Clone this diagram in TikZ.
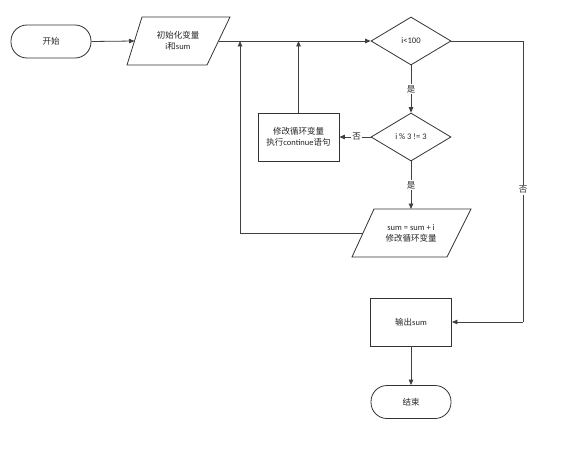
\documentclass[tikz,border=0pt]{standalone}
\usepackage{fontspec}
\setmainfont{Carlito}
\newfontfamily\cjk{Noto Sans CJK SC}
\usetikzlibrary{arrows.meta,shapes.geometric}
\begin{document}
\begin{tikzpicture}[x=1pt,y=-1pt,
  line/.style={draw=black!75, line width=0.8pt},
  arr/.style={line, -{Triangle[length=5.5pt,width=4.5pt]}},
  shapeline/.style={draw=black!80, line width=0.8pt},
  txt/.style={text=black!85, font=\fontsize{8.5}{11}\selectfont, align=center},
  term/.style={shapeline, txt, rectangle, rounded corners=16pt, minimum width=80pt, minimum height=33pt, inner sep=0pt},
  procbox/.style={shapeline, txt, rectangle, minimum width=81pt, minimum height=48pt, inner sep=0pt},
  decision/.style={shapeline, txt, diamond, aspect=1.667, minimum width=80pt, minimum height=48pt, inner sep=0pt},
  lbl/.style={txt, fill=white, inner sep=1.5pt}
]
\useasboundingbox (0,0) rectangle (588,452);
\fill[white] (0,0) rectangle (588,452);

% terminals
\node[term] (start) at (51,41.5) {\cjk 开始};
\node[term] (stop) at (411,402) {\cjk 结束};

% init parallelogram
\draw[shapeline] (142,17) -- (230,17) -- (207,65) -- (127,65) -- cycle;
\node[txt] (init) at (178,41) {{\cjk 初始化变量}\\i{\cjk 和}sum};
\coordinate (initL) at (134.5,41);
\coordinate (initR) at (218.5,41);

% decisions
\node[decision] (d1) at (411,41) {i<100};
\node[decision] (d2) at (411,137) {i \% 3 != 3};

% continue box
\node[procbox] (cont) at (298.5,137) {{\cjk 修改循环变量}\\{\cjk 执行}continue{\cjk 语句}};

% sum parallelogram
\draw[shapeline] (374,209) -- (471,209) -- (447,257) -- (352,257) -- cycle;
\node[txt] (sum) at (411,233) {sum = sum + i\\{\cjk 修改循环变量}};
\coordinate (sumT) at (411,209);
\coordinate (sumL) at (363,233);

% output box
\node[procbox] (out) at (411,322) {{\cjk 输出}sum};

% junctions
\coordinate (j1) at (240,41);
\coordinate (j2) at (298.5,41);
\coordinate (c1) at (240,233);
\coordinate (r1) at (523,41);
\coordinate (r2) at (523,322);

% connectors
\draw[arr] (start.east) -- (initL);
\draw[arr] (initR) -- (d1.west);
\draw[arr] (d1.south) -- node[lbl] {\cjk 是} (d2.north);
\draw[arr] (d2.south) -- node[lbl] {\cjk 是} (sumT);
\draw[arr] (d2.west) -- node[lbl, pos=0.45] {\cjk 否} (cont.east);
\draw[arr] (cont.north) -- (j2);
\draw[arr] (sumL) -- (c1) -- (j1);
\draw[line] (d1.east) -- (r1) -- node[lbl, pos=0.53] {\cjk 否} (r2);
\draw[arr] (r2) -- (out.east);
\draw[arr] (out.south) -- (stop.north);
\end{tikzpicture}
\end{document}
